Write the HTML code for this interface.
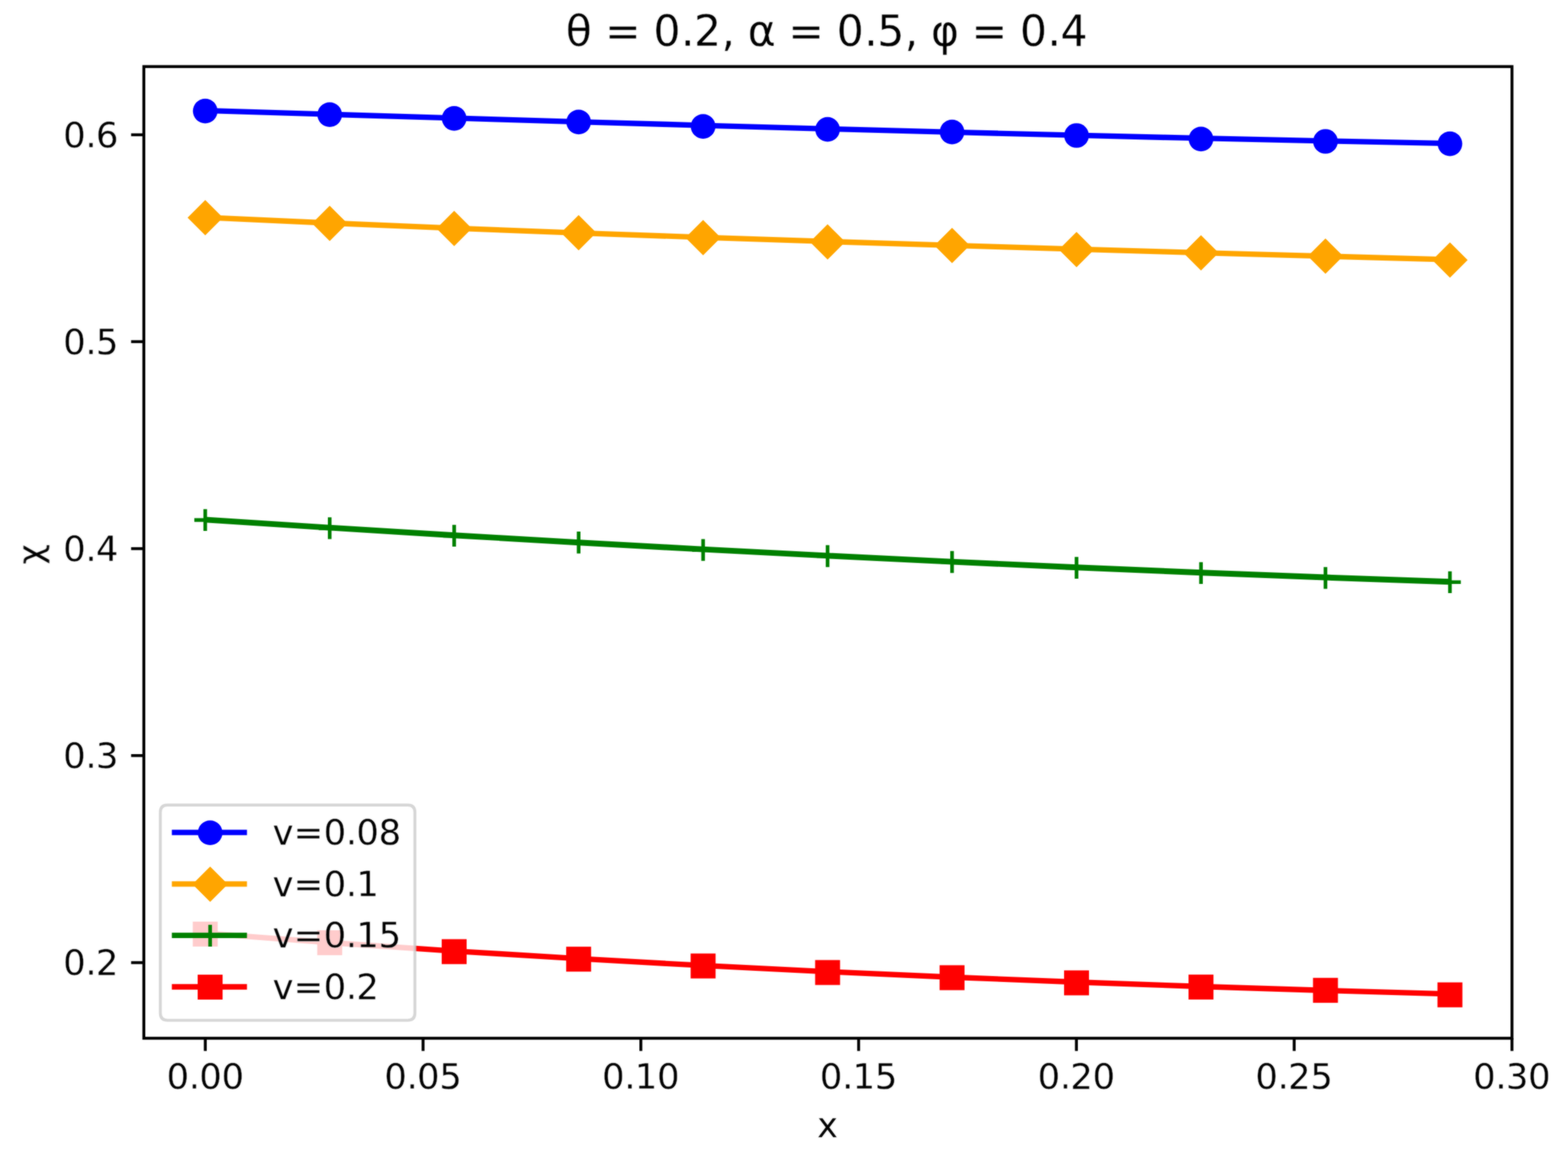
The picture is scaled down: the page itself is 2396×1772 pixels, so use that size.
<!DOCTYPE html>
<html lang="en">
<head>
<meta charset="utf-8">
<title>θ = 0.2, α = 0.5, φ = 0.4</title>
<style>
html,body{margin:0;padding:0;background:#ffffff;}
body{width:2396px;height:1772px;overflow:hidden;}
svg{display:block;}
text{font-family:'DejaVu Sans', 'Liberation Sans', sans-serif;fill:#000000;white-space:pre;stroke:#ffffff;stroke-width:0.3px;stroke-linejoin:round;}
</style>
</head>
<body>
<svg width="2396" height="1772" viewBox="0 0 2396 1772">
<defs>
<filter id="soft" filterUnits="userSpaceOnUse" x="0" y="0" width="2396" height="1772" color-interpolation-filters="sRGB"><feGaussianBlur in="SourceGraphic" stdDeviation="0.8" result="b"/><feComposite in="b" in2="SourceGraphic" operator="arithmetic" k1="0" k2="0.5" k3="0.5" k4="0"/></filter>
<filter id="softtext" filterUnits="userSpaceOnUse" x="0" y="0" width="2396" height="1772" color-interpolation-filters="sRGB"><feGaussianBlur in="SourceGraphic" stdDeviation="0.8" result="b"/><feComposite in="b" in2="SourceGraphic" operator="arithmetic" k1="0" k2="0.6" k3="0.4" k4="0"/></filter>
</defs>
<rect width="2396" height="1772" fill="#ffffff"/>
<g class="shapes" filter="url(#soft)">
<g class="series blue">
<polyline points="313.6,168.86 503.8,174.69 694,180.44 884.2,186.08 1074.4,191.56 1264.6,196.85 1454.8,201.91 1645,206.7 1835.2,211.2 2025.4,215.35 2215.6,219.13" fill="none" stroke="#0000ff" stroke-width="8.33" stroke-linejoin="round"/>
<circle cx="313.6" cy="169.6" r="18.84" fill="#0000ff"/>
<circle cx="503.8" cy="175.1" r="18.84" fill="#0000ff"/>
<circle cx="694" cy="180.9" r="18.84" fill="#0000ff"/>
<circle cx="884.2" cy="186.4" r="18.84" fill="#0000ff"/>
<circle cx="1074.4" cy="193.05" r="18.84" fill="#0000ff"/>
<circle cx="1264.6" cy="197.7" r="18.84" fill="#0000ff"/>
<circle cx="1454.8" cy="201.6" r="18.84" fill="#0000ff"/>
<circle cx="1645" cy="207" r="18.84" fill="#0000ff"/>
<circle cx="1835.2" cy="212.4" r="18.84" fill="#0000ff"/>
<circle cx="2025.4" cy="216" r="18.84" fill="#0000ff"/>
<circle cx="2215.6" cy="219.6" r="18.84" fill="#0000ff"/>
</g>
<g class="series orange">
<polyline points="313.6,332.18 503.8,340.72 694,348.58 884.2,355.86 1074.4,362.62 1264.6,368.94 1454.8,374.91 1645,380.59 1835.2,386.06 2025.4,391.4 2215.6,396.69" fill="none" stroke="#ffa500" stroke-width="8.33" stroke-linejoin="round"/>
<path d="M313.6 305.4L340.6 332.4L313.6 359.4L286.6 332.4Z" fill="#ffa500"/>
<path d="M503.8 314.2L530.8 341.2L503.8 368.2L476.8 341.2Z" fill="#ffa500"/>
<path d="M694 322.1L721 349.1L694 376.1L667 349.1Z" fill="#ffa500"/>
<path d="M884.2 328.5L911.2 355.5L884.2 382.5L857.2 355.5Z" fill="#ffa500"/>
<path d="M1074.4 336.05L1101.4 363.05L1074.4 390.05L1047.4 363.05Z" fill="#ffa500"/>
<path d="M1264.6 342.6L1291.6 369.6L1264.6 396.6L1237.6 369.6Z" fill="#ffa500"/>
<path d="M1454.8 347.9L1481.8 374.9L1454.8 401.9L1427.8 374.9Z" fill="#ffa500"/>
<path d="M1645 354.3L1672 381.3L1645 408.3L1618 381.3Z" fill="#ffa500"/>
<path d="M1835.2 359.3L1862.2 386.3L1835.2 413.3L1808.2 386.3Z" fill="#ffa500"/>
<path d="M2025.4 364.3L2052.4 391.3L2025.4 418.3L1998.4 391.3Z" fill="#ffa500"/>
<path d="M2215.6 370.2L2242.6 397.2L2215.6 424.2L2188.6 397.2Z" fill="#ffa500"/>
</g>
<g class="series green">
<polyline points="313.6,793.91 503.8,806.09 694,817.69 884.2,828.7 1074.4,839.11 1264.6,848.93 1454.8,858.14 1645,866.73 1835.2,874.71 2025.4,882.06 2215.6,888.78" fill="none" stroke="#008000" stroke-width="8.89" stroke-linejoin="round"/>
<path d="M296.93 794.4H330.27M313.6 777.73V811.07" stroke="#008000" stroke-width="5.56" fill="none"/>
<path d="M487.13 806.9H520.47M503.8 790.23V823.57" stroke="#008000" stroke-width="5.56" fill="none"/>
<path d="M677.33 818.4H710.67M694 801.73V835.07" stroke="#008000" stroke-width="5.56" fill="none"/>
<path d="M867.53 828.75H900.87M884.2 812.08V845.42" stroke="#008000" stroke-width="5.56" fill="none"/>
<path d="M1057.73 840.2H1091.07M1074.4 823.53V856.87" stroke="#008000" stroke-width="5.56" fill="none"/>
<path d="M1247.93 849.5H1281.27M1264.6 832.83V866.17" stroke="#008000" stroke-width="5.56" fill="none"/>
<path d="M1438.13 858.5H1471.47M1454.8 841.83V875.17" stroke="#008000" stroke-width="5.56" fill="none"/>
<path d="M1628.33 867.4H1661.67M1645 850.73V884.07" stroke="#008000" stroke-width="5.56" fill="none"/>
<path d="M1818.53 875.3H1851.87M1835.2 858.63V891.97" stroke="#008000" stroke-width="5.56" fill="none"/>
<path d="M2008.73 882.8H2042.07M2025.4 866.13V899.47" stroke="#008000" stroke-width="5.56" fill="none"/>
<path d="M2198.93 889.3H2232.27M2215.6 872.63V905.97" stroke="#008000" stroke-width="5.56" fill="none"/>
</g>
<g class="series red">
<polyline points="313.6,1425.71 503.8,1439.93 694,1452.81 884.2,1464.45 1074.4,1474.93 1264.6,1484.33 1454.8,1492.76 1645,1500.28 1835.2,1506.99 2025.4,1512.98 2215.6,1518.33" fill="none" stroke="#ff0000" stroke-width="8.33" stroke-linejoin="round"/>
<rect x="294.56" y="1407.86" width="38.09" height="38.09" fill="#ff0000"/>
<rect x="484.76" y="1421.06" width="38.09" height="38.09" fill="#ff0000"/>
<rect x="674.96" y="1434.66" width="38.09" height="38.09" fill="#ff0000"/>
<rect x="865.16" y="1446.16" width="38.09" height="38.09" fill="#ff0000"/>
<rect x="1055.36" y="1456.56" width="38.09" height="38.09" fill="#ff0000"/>
<rect x="1245.56" y="1466.56" width="38.09" height="38.09" fill="#ff0000"/>
<rect x="1435.76" y="1474.46" width="38.09" height="38.09" fill="#ff0000"/>
<rect x="1625.96" y="1482.36" width="38.09" height="38.09" fill="#ff0000"/>
<rect x="1816.16" y="1488.76" width="38.09" height="38.09" fill="#ff0000"/>
<rect x="2006.36" y="1493.76" width="38.09" height="38.09" fill="#ff0000"/>
<rect x="2196.56" y="1500.66" width="38.09" height="38.09" fill="#ff0000"/>
</g>
<g class="ticks" stroke="#000000" stroke-width="4.44">
<line x1="313.7" y1="1586" x2="313.7" y2="1605.44"/>
<line x1="646.48" y1="1586" x2="646.48" y2="1605.44"/>
<line x1="979.26" y1="1586" x2="979.26" y2="1605.44"/>
<line x1="1312.04" y1="1586" x2="1312.04" y2="1605.44"/>
<line x1="1644.82" y1="1586" x2="1644.82" y2="1605.44"/>
<line x1="1977.6" y1="1586" x2="1977.6" y2="1605.44"/>
<line x1="2310.38" y1="1586" x2="2310.38" y2="1605.44"/>
<line x1="219.8" y1="205.9" x2="200.36" y2="205.9"/>
<line x1="219.8" y1="521.9" x2="200.36" y2="521.9"/>
<line x1="219.8" y1="838.1" x2="200.36" y2="838.1"/>
<line x1="219.8" y1="1154.2" x2="200.36" y2="1154.2"/>
<line x1="219.8" y1="1470.5" x2="200.36" y2="1470.5"/>
</g>
<rect class="axes" x="219.8" y="101.7" width="2090.6" height="1484.3" fill="none" stroke="#000000" stroke-width="4.44" stroke-linejoin="miter"/>
<g class="legend">
<path d="M256.11 1229.7L622.89 1229.7Q634 1229.7 634 1240.81L634 1547.49Q634 1558.6 622.89 1558.6L256.11 1558.6Q245 1558.6 245 1547.49L245 1240.81Q245 1229.7 256.11 1229.7Z" fill="#ffffff" fill-opacity="0.8" stroke="#cccccc" stroke-opacity="0.8" stroke-width="4.44" stroke-linejoin="miter"/>
<line x1="262.6" y1="1271.7" x2="377.4" y2="1271.7" stroke="#0000ff" stroke-width="8.33"/>
<circle cx="321.1" cy="1272.1" r="18.84" fill="#0000ff"/>
<line x1="262.6" y1="1350.3" x2="377.4" y2="1350.3" stroke="#ffa500" stroke-width="8.33"/>
<path d="M321.1 1323.7L348.1 1350.7L321.1 1377.7L294.1 1350.7Z" fill="#ffa500"/>
<line x1="262.6" y1="1428.9" x2="377.4" y2="1428.9" stroke="#008000" stroke-width="8.33"/>
<path d="M304.43 1429.3H337.77M321.1 1412.63V1445.97" stroke="#008000" stroke-width="5.56" fill="none"/>
<line x1="262.6" y1="1507.5" x2="377.4" y2="1507.5" stroke="#ff0000" stroke-width="8.33"/>
<rect x="302.06" y="1488.86" width="38.09" height="38.09" fill="#ff0000"/>
</g>
</g>
<g class="labels" filter="url(#softtext)">
<g class="xticklabels">
<text x="254.4 288.4 304.4 338.4" y="1663" font-size="54.17">0.00</text>
<text x="587.18 621.18 637.18 671.18" y="1663" font-size="54.17">0.05</text>
<text x="919.96 953.96 969.96 1003.96" y="1663" font-size="54.17">0.10</text>
<text x="1252.74 1286.74 1302.74 1336.74" y="1663" font-size="54.17">0.15</text>
<text x="1585.52 1619.52 1635.52 1669.52" y="1663" font-size="54.17">0.20</text>
<text x="1918.3 1952.3 1968.3 2002.3" y="1663" font-size="54.17">0.25</text>
<text x="2251.08 2285.08 2301.08 2335.08" y="1663" font-size="54.17">0.30</text>
</g>
<g class="yticklabels">
<text x="96.4 130.4 146.4" y="224.6" font-size="54.17">0.6</text>
<text x="96.4 130.4 146.4" y="540.6" font-size="54.17">0.5</text>
<text x="96.4 130.4 146.4" y="856.8" font-size="54.17">0.4</text>
<text x="96.4 130.4 146.4" y="1172.9" font-size="54.17">0.3</text>
<text x="96.4 130.4 146.4" y="1489.2" font-size="54.17">0.2</text>
</g>
<g class="xlabel"><text x="1248.4" y="1737" font-size="54.17">x</text></g>
<g class="ylabel" transform="translate(64.6 863) rotate(-90)"><text x="0.4" y="0" font-size="54.17">χ</text></g>
<g class="title"><text x="864.4 904.4 924.4 978.4 998.4 1040.4 1060.4 1102.4 1122.4 1142.4 1184.4 1204.4 1258.4 1278.4 1320.4 1340.4 1382.4 1402.4 1422.4 1464.4 1484.4 1538.4 1558.4 1600.4 1620.4" y="70" font-size="65">θ = 0.2, α = 0.5, φ = 0.4</text></g>
<g class="legendlabels">
<text x="416.4 448.4 494.4 528.4 544.4 578.4" y="1290" font-size="54.17">v=0.08</text>
<text x="416.4 448.4 494.4 528.4 544.4" y="1368.6" font-size="54.17">v=0.1</text>
<text x="416.4 448.4 494.4 528.4 544.4 578.4" y="1447.2" font-size="54.17">v=0.15</text>
<text x="416.4 448.4 494.4 528.4 544.4" y="1525.8" font-size="54.17">v=0.2</text>
</g>
</g>
</svg>
</body>
</html>
